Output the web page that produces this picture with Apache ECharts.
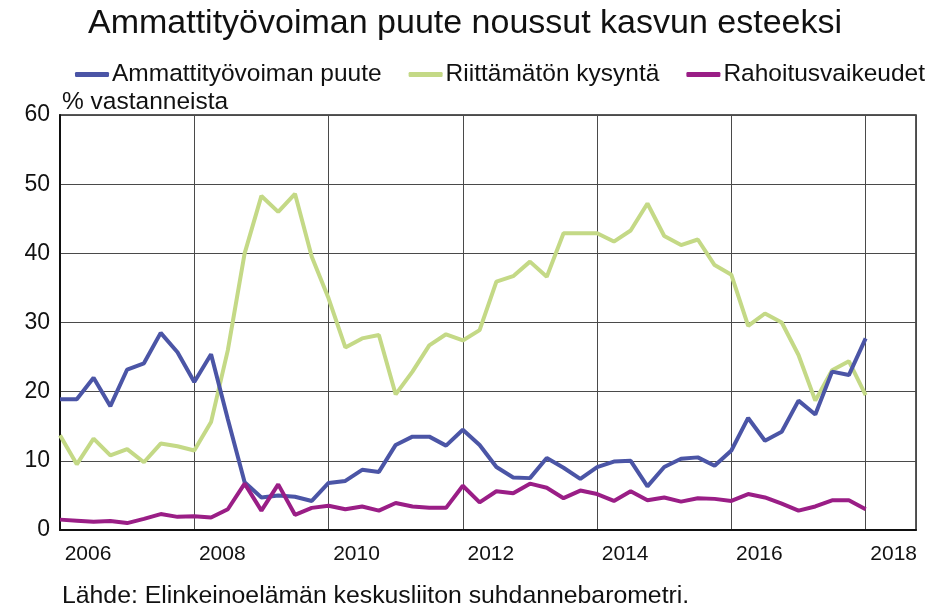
<!DOCTYPE html>
<html>
<head>
<meta charset="utf-8">
<script src="https://cdn.jsdelivr.net/npm/echarts@6/dist/echarts.min.js"></script>
<style>
html,body{margin:0;padding:0;background:#fff;}
#chart{width:930px;height:609px;}
</style>
</head>
<body>
<div id="chart"></div>
<script>
// Quarterly observations, index 0 = first quarter shown
const seriesNames = ['Ammattityövoiman puute', 'Riittämätön kysyntä', 'Rahoitusvaikeudet'];
const ammattityovoima = [18.9,18.9,22.0,17.9,23.2,24.1,28.5,25.7,21.4,
  25.4,16.0,6.9,4.7,5.0,4.8,4.2,6.8,
  7.1,8.7,8.4,12.3,13.5,13.5,12.2,14.5,
  12.3,9.1,7.6,7.5,10.4,9.0,7.4,9.1,
  9.9,10.0,6.3,9.1,10.3,10.5,9.3,11.5,
  16.2,12.9,14.2,18.7,16.7,22.9,22.4,27.7];
const kysynta = [13.7,9.5,13.2,10.8,11.7,9.8,12.5,12.1,11.5,
  15.6,26.0,40.0,48.3,46.0,48.6,39.5,33.5,
  26.4,27.7,28.2,19.6,22.9,26.7,28.3,27.4,
  28.9,35.9,36.7,38.8,36.6,42.9,42.9,42.9,
  41.7,43.3,47.2,42.5,41.2,42.0,38.3,36.9,
  29.5,31.3,30.0,25.3,18.7,23.1,24.4,19.5];
const rahoitus = [1.5,1.35,1.2,1.3,1.0,1.6,2.3,1.9,2.0,
  1.8,3.0,6.7,2.8,6.6,2.2,3.2,3.5,
  3.0,3.4,2.8,3.9,3.4,3.2,3.2,6.4,
  4.0,5.6,5.3,6.7,6.1,4.6,5.7,5.2,
  4.2,5.6,4.3,4.7,4.1,4.6,4.5,4.2,
  5.2,4.7,3.8,2.8,3.4,4.3,4.3,3.0];
const yearLabels = ['2006','2008','2010','2012','2014','2016','2018'];
const yTicks = [0,10,20,30,40,50,60];
const colors = ['#4B55A6', '#C4D986', '#9A1E86'];

const toPairs = arr => arr.map((v, i) => [i, v]);
const FONT = '"Liberation Sans", Arial, sans-serif';

const chart = echarts.init(document.getElementById('chart'), null, {renderer: 'canvas'});
chart.setOption({
  animation: false,
  backgroundColor: '#fff',
  textStyle: {fontFamily: FONT},
  title: {
    text: 'Ammattityövoiman puute noussut kasvun esteeksi',
    left: 'center',
    top: 2,
    textStyle: {fontFamily: FONT, fontSize: 34, fontWeight: 'normal', color: '#111'}
  },
  legend: {
    data: seriesNames,
    left: 75,
    top: 62,
    width: 900,
    padding: 0,
    itemGap: 27,
    itemWidth: 34,
    itemHeight: 5,
    icon: 'roundRect',
    textStyle: {fontFamily: FONT, fontSize: 24.5, color: '#111', padding: [0,0,0,-2]}
  },
  grid: {
    left: 60, right: 14, top: 115, bottom: 79,
    show: true, borderColor: '#222', borderWidth: 1.5
  },
  xAxis: {
    type: 'value',
    min: 0,
    max: 51,
    interval: 8,
    axisLine: {show: true, lineStyle: {color: '#111', width: 2}},
    axisTick: {show: false},
    splitLine: {show: true, lineStyle: {color: '#4a4a4a', width: 1}},
    axisLabel: {
      showMaxLabel: false,
      margin: 14,
      fontFamily: FONT,
      fontSize: 21,
      color: '#111',
      padding: [0, 0, 0, 56],
      formatter: v => (v % 8 === 0 ? (yearLabels[v / 8] || '') : '')
    }
  },
  yAxis: {
    type: 'value',
    min: yTicks[0],
    max: yTicks[yTicks.length - 1],
    interval: 10,
    axisLine: {show: true, lineStyle: {color: '#111', width: 2}},
    axisTick: {show: false},
    splitLine: {show: true, lineStyle: {color: '#4a4a4a', width: 1}},
    axisLabel: {margin: 10, fontFamily: FONT, fontSize: 23, color: '#111'}
  },
  graphic: [
    {type: 'text', left: 62, top: 90, style: {text: '% vastanneista', font: '24.5px ' + FONT, fill: '#111'}},
    {type: 'text', left: 62, top: 584, style: {text: 'Lähde: Elinkeinoelämän keskusliiton suhdannebarometri.', font: '24.8px ' + FONT, fill: '#111'}}
  ],
  series: [
    {name: seriesNames[0], type: 'line', data: toPairs(ammattityovoima), showSymbol: false, lineStyle: {width: 4, color: colors[0]}, itemStyle: {color: colors[0]}, z: 3},
    {name: seriesNames[1], type: 'line', data: toPairs(kysynta), showSymbol: false, lineStyle: {width: 4, color: colors[1]}, itemStyle: {color: colors[1]}, z: 2},
    {name: seriesNames[2], type: 'line', data: toPairs(rahoitus), showSymbol: false, lineStyle: {width: 4, color: colors[2]}, itemStyle: {color: colors[2]}, z: 4}
  ]
});
</script>
</body>
</html>
